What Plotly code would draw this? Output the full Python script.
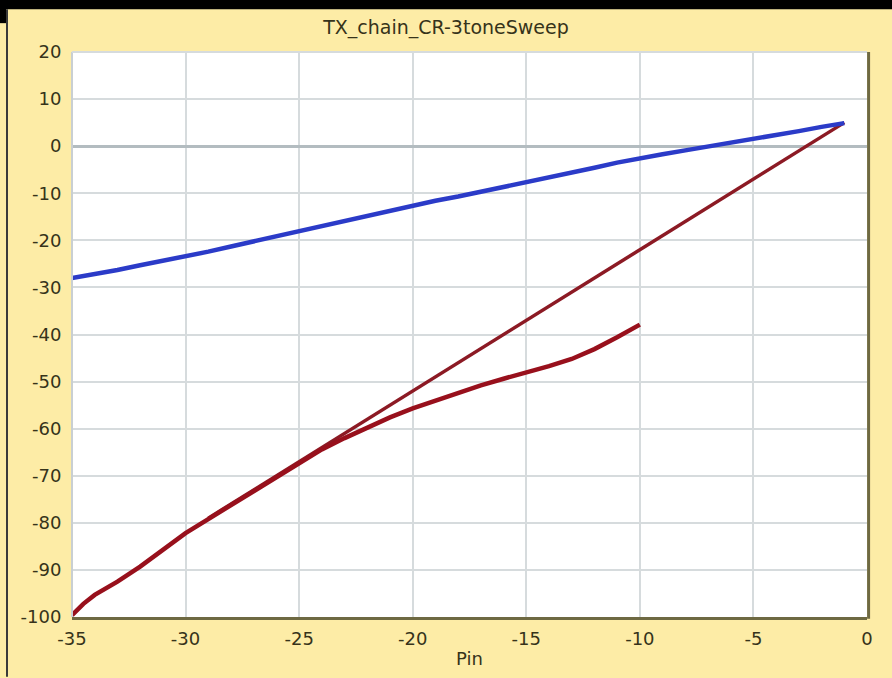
import plotly.graph_objects as go

# ---- data ----
pin_fund = [-35, -34, -33, -32, -31, -30, -29, -28, -27, -26, -25, -24, -23, -22, -21,
            -20, -19, -18, -17, -16, -15, -14, -13, -12, -11, -10, -9, -8, -7, -6,
            -5, -4, -3, -2, -1]
pout_fund = [-28.0, -27.2, -26.3, -25.3, -24.4, -23.4, -22.4, -21.3, -20.2, -19.2,
             -18.1, -17.0, -15.9, -14.8, -13.7, -12.6, -11.6, -10.7, -9.7, -8.8,
             -7.8, -6.8, -5.7, -4.6, -3.5, -2.5, -1.7, -0.9, -0.1, 0.6,
             1.4, 2.3, 3.2, 4.1, 4.9]

pin_im3 = [-35, -34.5, -34, -33.5, -33, -32, -31, -30, -29, -28, -27, -26, -25, -24,
           -23, -22, -21, -20, -19, -18, -17, -16, -15, -14, -13, -12, -11, -10]
pout_im3 = [-99.6, -97.2, -95.3, -94.0, -92.5, -89.3, -85.6, -82.2, -79.2, -76.2,
            -73.2, -70.2, -67.2, -64.4, -62.0, -59.7, -57.6, -55.7, -54.0, -52.4,
            -50.8, -49.4, -48.1, -46.7, -45.2, -43.1, -40.6, -37.9]

pin_ext = [-29, -1]
pout_ext = [-79.0, 5.0]

x_ticks = [-35, -30, -25, -20, -15, -10, -5, 0]
y_ticks = [20, 10, 0, -10, -20, -30, -40, -50, -60, -70, -80, -90, -100]

TITLE = "TX_chain_CR-3toneSweep"
X_LABEL = "Pin"

# ---- styling ----
BG = "#FDECA6"
TXT = "#36331A"
FONT = "DejaVu Sans"
GRID = "#D6DBDD"

fig = go.Figure()
fig.add_trace(go.Scatter(x=pin_ext, y=pout_ext, mode="lines",
                         line=dict(color="#8C1A24", width=3.5), showlegend=False))
fig.add_trace(go.Scatter(x=pin_im3, y=pout_im3, mode="lines",
                         line=dict(color="#98101C", width=4.5), showlegend=False))
fig.add_trace(go.Scatter(x=pin_fund, y=pout_fund, mode="lines",
                         line=dict(color="#2B3BC8", width=4.5), showlegend=False))

W, H = 892, 678
L, R, T, B = 72, 25, 52, 58
pw, ph = W - L - R, H - T - B


def px_x(px):
    return (px - L) / pw


def px_y(py):
    return (H - B - py) / ph


shapes = [
    # light left/top frame
    dict(type="line", xref="paper", yref="paper", x0=0, x1=0, y0=0, y1=1,
         line=dict(color="#C9CFD2", width=2)),
    dict(type="line", xref="paper", yref="paper", x0=0, x1=1, y0=1, y1=1,
         line=dict(color="#D6DBDD", width=2)),
    # dark right frame
    dict(type="line", xref="paper", yref="paper", x0=1.002, x1=1.002, y0=-0.003, y1=1,
         line=dict(color="#6E6942", width=3)),
    # window edges (black)
    dict(type="rect", xref="paper", yref="paper", x0=px_x(-2), x1=px_x(W + 2),
         y0=px_y(9), y1=px_y(-2), fillcolor="black", line=dict(width=0), layer="above"),
    dict(type="rect", xref="paper", yref="paper", x0=px_x(-2), x1=px_x(6),
         y0=px_y(23), y1=px_y(-2), fillcolor="black", line=dict(width=0), layer="above"),
    dict(type="line", xref="paper", yref="paper", x0=px_x(7), x1=px_x(7),
         y0=px_y(H + 2), y1=px_y(9), line=dict(color="#3A3A3A", width=2), layer="above"),
]

fig.update_layout(
    width=W, height=H,
    paper_bgcolor=BG, plot_bgcolor="white",
    margin=dict(l=L, r=R, t=T, b=B, pad=0),
    font=dict(family=FONT, size=18, color=TXT),
    title=dict(text=TITLE, x=0.5, xref="container", xanchor="center",
               y=1 - 27 / H, yref="container", yanchor="middle",
               font=dict(family=FONT, size=19, color=TXT)),
    shapes=shapes,
    showlegend=False,
)

fig.update_xaxes(range=[-35, 0], tickmode="array", tickvals=x_ticks,
                 ticktext=[str(v) for v in x_ticks],
                 showgrid=True, gridcolor=GRID, gridwidth=2,
                 zeroline=False, showline=True, linecolor="#6E6942", linewidth=3,
                 ticks="outside", ticklen=3, tickcolor="rgba(0,0,0,0)",
                 tickfont=dict(family=FONT, size=18, color=TXT),
                 title=dict(text=X_LABEL, standoff=5,
                            font=dict(family=FONT, size=18, color=TXT)))
fig.update_yaxes(range=[-100, 20], tickmode="array", tickvals=y_ticks,
                 ticktext=[str(v) for v in y_ticks],
                 showgrid=True, gridcolor=GRID, gridwidth=2,
                 zeroline=True, zerolinecolor="#B3BCC0", zerolinewidth=2.5,
                 showline=False,
                 ticks="outside", ticklen=6, tickcolor="rgba(0,0,0,0)",
                 tickfont=dict(family=FONT, size=18, color=TXT))

fig.write_html("out.html",
               config={"displayModeBar": False},
               post_script="document.body.style.margin='0';"
                           "document.body.style.overflow='hidden';")
